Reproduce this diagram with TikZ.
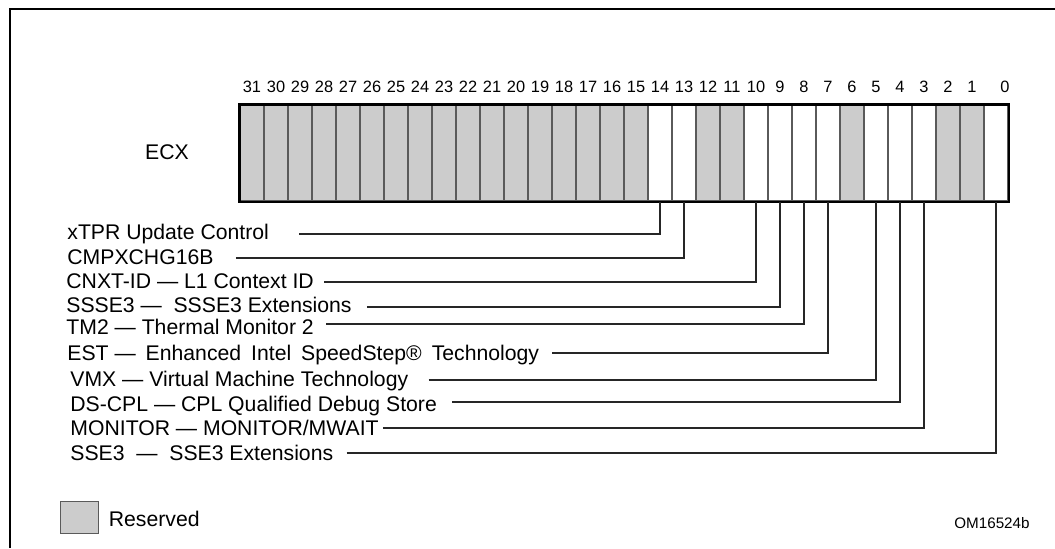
\documentclass[tikz,border=0pt]{standalone}
\usepackage{fontspec}
\setmainfont{Liberation Sans}
\usepackage{tikz}
\usetikzlibrary{positioning}
\definecolor{resvgray}{RGB}{204,204,204}
\definecolor{cellline}{RGB}{90,90,90}
\tikzset{
  cell/.style={draw=cellline,line width=0.7pt,fill=white,minimum width=12pt,minimum height=48pt,inner sep=0pt},
  resv/.style={cell,fill=resvgray},
  regframe/.style={draw=black,line width=1.2pt},
  bitnum/.style={inner sep=0pt,font=\fontsize{8.2}{9}\selectfont},
  lbl/.style={anchor=west,inner sep=0pt,text height=8pt,text depth=1.5pt,font=\fontsize{10.6}{12}\selectfont},
  leader/.style={draw=black!85,line width=0.55pt},
  frame/.style={line width=1.2pt}
}

\begin{document}
\begin{tikzpicture}[x=0.5pt,y=-0.5pt]
\useasboundingbox (0,0) rectangle (1055,548);
\draw[frame] (10,548) -- (10,9) -- (1055,9);
\foreach \i in {0,3,4,5,7,8,9,10,13,14}{
  \node[cell] (b\i) at ({996-24*\i},153) {};}
\foreach \i in {1,2,6,11,12,15,16,...,31}{
  \node[resv] (b\i) at ({996-24*\i},153) {};}
\draw[regframe] (b31.north west) rectangle (b0.south east);
\foreach \i in {1,...,31}{
  \node[bitnum,above=5.5pt of b\i] (n\i) {\i};}
\node[bitnum,above=5.5pt of b0,xshift=4.5pt] (n0) {0};
\node[lbl,anchor=center] (ecx) at (167,153) {ECX};
\node[lbl] (xtpr) at (67,233) {xTPR Update Control};
\node[lbl] (cmpx) at (67,258) {CMPXCHG16B};
\node[lbl] (cnxt) at (66,282) {CNXT-ID — L1 Context ID};
\node[lbl] (ssse3) at (66,306) {SSSE3 —\ \ SSSE3 Extensions};
\node[lbl] (tm2) at (66,328) {TM2 — Thermal Monitor 2};
\node[lbl] (est) at (67,354) {EST —\hspace{5pt}Enhanced\hspace{5pt}Intel\hspace{5pt}SpeedStep®\hspace{5pt}Technology};
\node[lbl] (vmx) at (70,380) {VMX — Virtual Machine Technology};
\node[lbl] (dscpl) at (70,405) {DS-CPL — CPL Qualified Debug Store};
\node[lbl] (monitor) at (70,429) {MONITOR — MONITOR/MWAIT};
\node[lbl] (sse3) at (70,454) {SSE3\ \ —\ \ SSE3 Extensions};
\foreach \n/\b/\g/\d in {xtpr/14/15pt/-0.5pt,cmpx/13/11pt/0pt,cnxt/10/5pt/0pt,ssse3/9/7.5pt/-0.5pt,
  tm2/8/6pt/2pt,est/7/6.5pt/0.5pt,vmx/5/10pt/0pt,dscpl/4/7.5pt/1.5pt,monitor/3/2pt/0.5pt,sse3/0/6.5pt/0.5pt}{
  \draw[leader] ([shift={(\g,\d)}]\n.east) -| (b\b.south);}
\node[resv,minimum width=19pt,minimum height=16pt,line width=0.5pt] (legbox) at (79,517) {};
\node[lbl,right=5pt of legbox,yshift=-1.5pt] (legtxt) {Reserved};
\node[inner sep=0pt,font=\fontsize{7.6}{9}\selectfont,anchor=east] (figid) at (1030,523) {OM16524b};
\end{tikzpicture}
\end{document}
